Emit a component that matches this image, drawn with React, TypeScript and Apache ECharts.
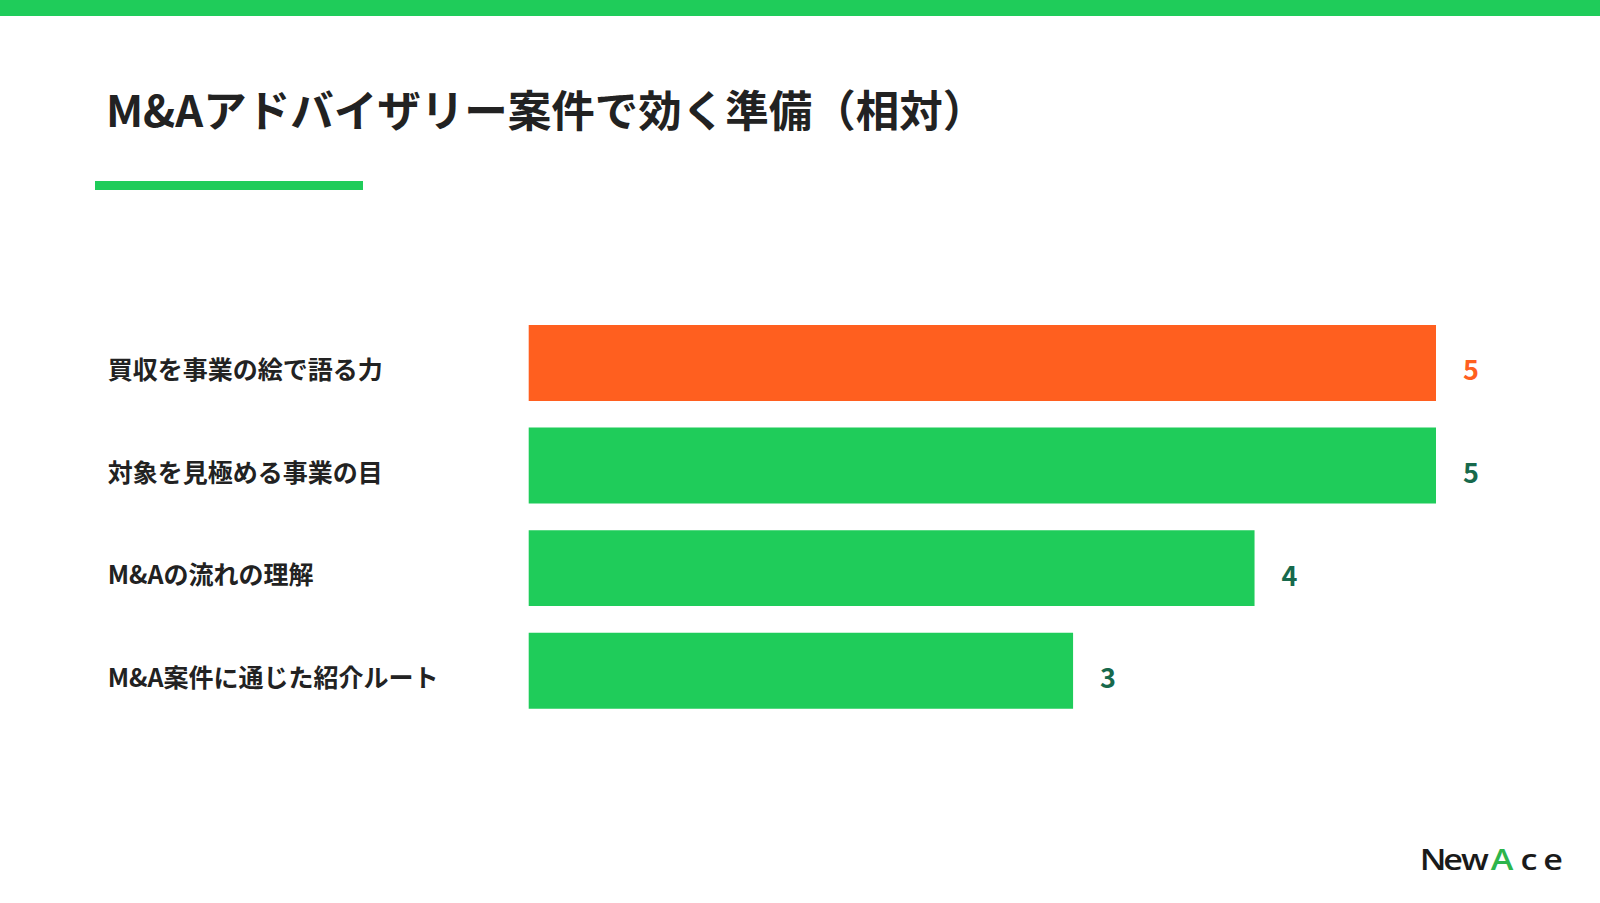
import React, { useEffect, useRef } from "react";
import * as echarts from "echarts";

const categories = [
  "買収を事業の絵で語る力",
  "対象を見極める事業の目",
  "M&Aの流れの理解",
  "M&A案件に通じた紹介ルート",
];
const values = [5, 5, 4, 3];
const highlightIndex = 0;
const titleText = "M&Aアドバイザリー案件で効く準備（相対）";
const logoLetters = ["N", "e", "w", "A", "c", "e"];
const logoCenters = [1433, 1453, 1475, 1502, 1529, 1553];

const GREEN = "#1FCC5A";
const ORANGE = "#FF5F1F";
const DARK_GREEN = "#17694C";
const TEXT = "#222222";
const FONT = "'Noto Sans CJK JP', 'Noto Sans', sans-serif";

export default function App() {
  const ref = useRef<HTMLDivElement>(null);

  useEffect(() => {
    if (!ref.current) return;
    const chart = echarts.init(ref.current, undefined, { renderer: "svg" });

    const data = values.map((v, i) => ({
      value: v,
      itemStyle: { color: i === highlightIndex ? ORANGE : GREEN },
      label: { color: i === highlightIndex ? ORANGE : DARK_GREEN },
    }));

    const logoEls = logoLetters.map((ch, i) => ({
      type: "text",
      x: logoCenters[i],
      y: 859,
      scaleX: 1.22,
      style: {
        text: ch,
        fill: ch === "A" ? "#2DB54B" : "#1A1A1A",
        font: `600 28px 'Open Sans', sans-serif`,
        textAlign: "center",
        textVerticalAlign: "middle",
        verticalAlign: "middle",
      },
    }));

    chart.setOption({
      animation: false,
      backgroundColor: "#ffffff",
      graphic: [
        { type: "rect", shape: { x: 0, y: 0, width: 1600, height: 16 }, style: { fill: GREEN } },
        {
          type: "text",
          x: 106,
          y: 108,
          style: {
            text: titleText,
            fill: TEXT,
            font: `bold 43.5px ${FONT}`,
            textVerticalAlign: "middle",
            verticalAlign: "middle",
          },
        },
        { type: "rect", shape: { x: 95, y: 181, width: 268, height: 9 }, style: { fill: GREEN } },
        ...logoEls,
      ],
      grid: {
        left: 528.7,
        right: 164,
        top: 311.7,
        bottom: 181,
        containLabel: false,
        outerBoundsMode: "none",
      },
      xAxis: {
        type: "value",
        min: 0,
        max: 5,
        show: false,
      },
      yAxis: {
        type: "category",
        inverse: true,
        data: categories,
        axisLine: { show: false },
        axisTick: { show: false },
        splitLine: { show: false },
        axisLabel: {
          align: "left",
          margin: 421,
          color: TEXT,
          fontSize: 25,
          fontWeight: "bold",
          fontFamily: FONT,
          lineHeight: 10,
          formatter: (v: string) => "\n" + v,
        },
      },
      series: [
        {
          type: "bar",
          data,
          barCategoryGap: "26%",
          label: {
            show: true,
            position: "right",
            distance: 27,
            fontSize: 27,
            fontWeight: "bold",
            fontFamily: FONT,
            offset: [0, 6],
          },
        },
      ],
    });

    return () => chart.dispose();
  }, []);

  return (
    <div
      ref={ref}
      style={{ position: "fixed", left: 0, top: 0, width: 1600, height: 903, background: "#fff" }}
    />
  );
}
